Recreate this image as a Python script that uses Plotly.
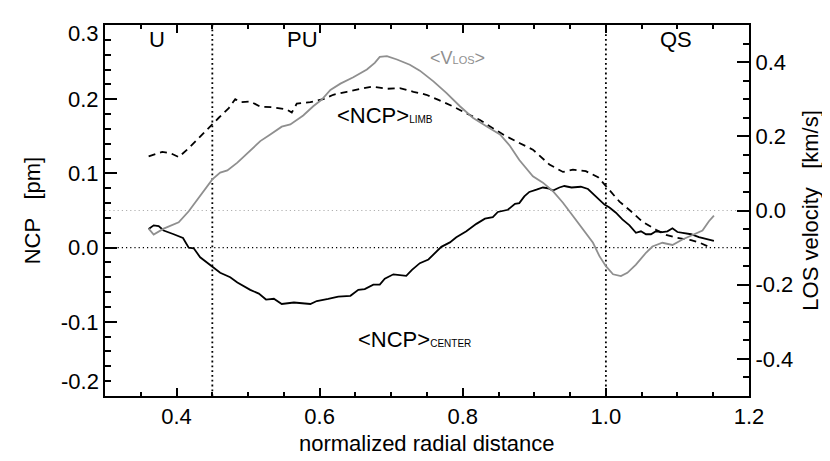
import plotly.graph_objects as go

# ---- data ----
x_center = [0.361, 0.368, 0.375, 0.382, 0.396, 0.409, 0.417, 0.424, 0.433, 0.450,
            0.461, 0.475, 0.485, 0.503, 0.515, 0.525, 0.536, 0.547, 0.564, 0.587,
            0.596, 0.612, 0.626, 0.643, 0.654, 0.663, 0.675, 0.684, 0.691, 0.703,
            0.721, 0.729, 0.740, 0.752, 0.770, 0.782, 0.791, 0.805, 0.819, 0.831,
            0.842, 0.849, 0.863, 0.873, 0.879, 0.886, 0.893, 0.903, 0.912, 0.919,
            0.926, 0.935, 0.942, 0.952, 0.965, 0.975, 0.984, 0.991, 0.998, 1.005,
            1.014, 1.023, 1.033, 1.042, 1.049, 1.056, 1.063, 1.070, 1.079, 1.086,
            1.093, 1.100, 1.109, 1.119, 1.130, 1.144, 1.151]
ncp_center = [0.025, 0.030, 0.029, 0.023, 0.018, 0.013, 0.000, -0.001, -0.013, -0.025,
              -0.034, -0.040, -0.047, -0.057, -0.062, -0.070, -0.069, -0.076, -0.074, -0.076,
              -0.072, -0.069, -0.066, -0.065, -0.057, -0.056, -0.050, -0.050, -0.042, -0.036,
              -0.038, -0.030, -0.021, -0.016, 0.001, 0.007, 0.014, 0.022, 0.032, 0.039,
              0.041, 0.048, 0.051, 0.059, 0.060, 0.069, 0.075, 0.078, 0.081, 0.080,
              0.077, 0.081, 0.083, 0.081, 0.082, 0.079, 0.071, 0.065, 0.058, 0.054,
              0.047, 0.038, 0.030, 0.020, 0.022, 0.018, 0.018, 0.022, 0.021, 0.022,
              0.026, 0.021, 0.020, 0.018, 0.014, 0.011, 0.009]

x_limb = [0.361, 0.380, 0.392, 0.403, 0.417, 0.431, 0.447, 0.459, 0.473, 0.482,
          0.489, 0.503, 0.517, 0.536, 0.554, 0.561, 0.568, 0.587, 0.605, 0.619,
          0.638, 0.656, 0.673, 0.694, 0.712, 0.731, 0.749, 0.766, 0.787, 0.805,
          0.824, 0.842, 0.859, 0.879, 0.898, 0.921, 0.940, 0.954, 0.972, 0.989,
          0.998, 1.005, 1.019, 1.035, 1.051, 1.070, 1.084, 1.100, 1.119, 1.130, 1.144]
ncp_limb = [0.123, 0.129, 0.127, 0.122, 0.134, 0.148, 0.164, 0.175, 0.188, 0.200,
            0.196, 0.197, 0.190, 0.189, 0.186, 0.182, 0.194, 0.196, 0.200, 0.206,
            0.210, 0.214, 0.217, 0.214, 0.215, 0.210, 0.206, 0.199, 0.190, 0.181,
            0.172, 0.161, 0.151, 0.141, 0.132, 0.112, 0.102, 0.105, 0.103, 0.095,
            0.085, 0.078, 0.062, 0.049, 0.035, 0.024, 0.017, 0.013, 0.010, 0.007, 0.001]

x_vlos = [0.361, 0.368, 0.382, 0.403, 0.417, 0.433, 0.450, 0.461, 0.471, 0.485,
          0.499, 0.517, 0.531, 0.547, 0.559, 0.577, 0.591, 0.603, 0.615, 0.629,
          0.647, 0.666, 0.677, 0.684, 0.694, 0.708, 0.726, 0.740, 0.759, 0.777,
          0.796, 0.814, 0.833, 0.852, 0.866, 0.879, 0.898, 0.912, 0.926, 0.940,
          0.954, 0.968, 0.982, 0.991, 1.000, 1.010, 1.021, 1.030, 1.042, 1.056,
          1.065, 1.079, 1.093, 1.107, 1.121, 1.135, 1.144, 1.151]
v_los = [-0.049, -0.065, -0.049, -0.032, -0.002, 0.039, 0.084, 0.102, 0.108, 0.129,
         0.155, 0.187, 0.205, 0.226, 0.232, 0.256, 0.281, 0.299, 0.325, 0.342,
         0.359, 0.380, 0.398, 0.414, 0.416, 0.407, 0.393, 0.377, 0.348, 0.317,
         0.281, 0.250, 0.227, 0.205, 0.174, 0.136, 0.092, 0.075, 0.052, 0.021,
         -0.015, -0.051, -0.087, -0.123, -0.150, -0.172, -0.177, -0.168, -0.146, -0.114,
         -0.097, -0.087, -0.093, -0.078, -0.065, -0.054, -0.029, -0.014]

x_ticks = [0.4, 0.6, 0.8, 1.0, 1.2]
x_ticklabels = ["0.4", "0.6", "0.8", "1.0", "1.2"]
ncp_ticks = [-0.2, -0.1, 0.0, 0.1, 0.2, 0.3]
ncp_ticklabels = ["-0.2", "-0.1", "0.0", "0.1", "0.2", "0.3"]
v_ticks = [-0.4, -0.2, 0.0, 0.2, 0.4]
v_ticklabels = ["-0.4", "-0.2", "0.0", "0.2", "0.4"]

region_bounds = [0.45, 1.0]
region_labels = ["U", "PU", "QS"]
region_label_x = [0.372, 0.576, 1.098]

FONT = "Liberation Sans, Arial, Helvetica, sans-serif"
GRAY = "#8f8f8f"
FS = 22

fig = go.Figure()

fig.add_trace(go.Scatter(x=x_vlos, y=v_los, yaxis="y2", mode="lines",
                         line=dict(color=GRAY, width=1.8), showlegend=False))
fig.add_trace(go.Scatter(x=x_limb, y=ncp_limb, mode="lines",
                         line=dict(color="black", width=1.8, dash="7px,5px"), showlegend=False))
fig.add_trace(go.Scatter(x=x_center, y=ncp_center, mode="lines",
                         line=dict(color="black", width=1.8), showlegend=False))

shapes = []
for xb in region_bounds:
    shapes.append(dict(type="line", xref="x", yref="paper", x0=xb, x1=xb, y0=0, y1=1,
                       line=dict(color="black", width=1.8, dash="1.8px,3px"), layer="below"))
shapes.append(dict(type="line", xref="paper", yref="y", x0=0, x1=1, y0=0, y1=0,
                   line=dict(color="black", width=1.2, dash="1.2px,3px"), layer="below"))
shapes.append(dict(type="line", xref="paper", yref="y2", x0=0, x1=1, y0=0, y1=0,
                   line=dict(color="#b0b0b0", width=1.2, dash="1.2px,3px"), layer="below"))

annotations = []
for lab, lx in zip(region_labels, region_label_x):
    annotations.append(dict(x=lx, y=0.281, xref="x", yref="y", text=lab, showarrow=False,
                            font=dict(family=FONT, size=FS, color="black"),
                            xanchor="center", yanchor="middle"))
annotations.append(dict(x=0.622, y=0.178, xref="x", yref="y",
                        text="<NCP><span style='font-size:10px'>LIMB</span>",
                        showarrow=False, font=dict(family=FONT, size=FS, color="black"),
                        xanchor="left", yanchor="middle"))
annotations.append(dict(x=0.732, y=-0.124, xref="x", yref="y",
                        text="<NCP><span style='font-size:10px'>CENTER</span>",
                        showarrow=False, font=dict(family=FONT, size=FS, color="black"),
                        xanchor="center", yanchor="middle"))
annotations.append(dict(x=0.792, y=0.412, xref="x", yref="y2",
                        text="<V<span style='font-size:11px'>LOS</span>>",
                        showarrow=False, font=dict(family=FONT, size=18, color=GRAY),
                        xanchor="center", yanchor="middle"))
# edge tick labels of the NCP axis are nudged inward in the reference
edge_labels = [(ncp_ticklabels[-1], 0.978), (ncp_ticklabels[0], 0.038)]
for txt, py in edge_labels:
    annotations.append(dict(x=0, y=py, xref="paper", yref="paper", text=txt, showarrow=False,
                            font=dict(family=FONT, size=FS, color="black"),
                            xanchor="right", yanchor="middle", xshift=-4))
# axis titles
annotations.append(dict(x=-0.112, y=0.5, xref="paper", yref="paper",
                        text="NCP\u00a0\u00a0\u00a0[pm]", textangle=-90, showarrow=False,
                        font=dict(family=FONT, size=FS, color="black"),
                        xanchor="center", yanchor="middle"))
annotations.append(dict(x=1.095, y=0.5, xref="paper", yref="paper",
                        text="LOS velocity\u00a0\u00a0\u00a0[km/s]", textangle=-90, showarrow=False,
                        font=dict(family=FONT, size=FS, color="black"),
                        xanchor="center", yanchor="middle"))
annotations.append(dict(x=0.5, y=-0.128, xref="paper", yref="paper",
                        text="normalized radial distance", showarrow=False,
                        font=dict(family=FONT, size=FS, color="black"),
                        xanchor="center", yanchor="middle"))

tickfont = dict(family=FONT, size=FS, color="black")
ncp_axis_text = [""] + ncp_ticklabels[1:-1] + [""]

# page body has an 8px default margin: size the figure so the plot area lands where the reference has it
fig.update_layout(
    width=822, height=453,
    margin=dict(l=97, r=81, t=17, b=65),
    paper_bgcolor="white", plot_bgcolor="white",
    shapes=shapes, annotations=annotations,
    xaxis=dict(range=[0.3, 1.2], tickmode="array", tickvals=x_ticks, ticktext=x_ticklabels,
               ticks="inside", ticklen=8, tickwidth=1.5, tickcolor="black",
               minor=dict(tickmode="linear", tick0=0.3, dtick=0.05, ticks="inside",
                          ticklen=4, tickwidth=1.5, tickcolor="black"),
               showline=True, linecolor="black", linewidth=2, mirror="ticks",
               showgrid=False, zeroline=False, tickfont=tickfont),
    yaxis=dict(range=[-0.2, 0.3], tickmode="array", tickvals=ncp_ticks, ticktext=ncp_axis_text,
               ticks="inside", ticklen=12, tickwidth=1.5, tickcolor="black",
               minor=dict(tickmode="linear", tick0=0, dtick=0.02, ticks="inside",
                          ticklen=6, tickwidth=1.5, tickcolor="black"),
               showline=True, linecolor="black", linewidth=2, mirror=True,
               showgrid=False, zeroline=False, tickfont=tickfont),
    yaxis2=dict(range=[-0.5, 0.5], overlaying="y", side="right",
                tickmode="array", tickvals=v_ticks, ticktext=v_ticklabels,
                ticks="inside", ticklen=12, tickwidth=1.5, tickcolor="black",
                minor=dict(tickmode="linear", tick0=0, dtick=0.05, ticks="inside",
                           ticklen=6, tickwidth=1.5, tickcolor="black"),
                showline=True, linecolor="black", linewidth=2,
                showgrid=False, zeroline=False, tickfont=tickfont),
)

fig.write_html("out.html")
